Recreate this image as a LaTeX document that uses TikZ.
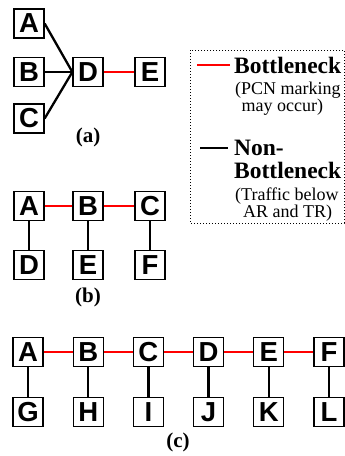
\documentclass[tikz,border=0pt]{standalone}
\usepackage{fontspec}
\setmainfont{Liberation Serif}
\newfontfamily\boxfont{Liberation Sans}
\begin{document}
\begin{tikzpicture}[x=1pt,y=-1pt,
  nbox/.style={draw=black,line width=1.3pt,fill=white,minimum width=30pt,minimum height=29pt,inner sep=0pt,font=\boxfont\bfseries\fontsize{27.5}{27.5}\selectfont},
  blk/.style={line width=2.3pt,black},
  rd/.style={line width=2.3pt,red},
  sublabel/.style={font=\bfseries\fontsize{21}{22}\selectfont,inner sep=0pt},
  lgb/.style={font=\bfseries\fontsize{23.5}{24}\selectfont,inner sep=0pt,anchor=base west},
  lgs/.style={font=\fontsize{18}{18}\selectfont,inner sep=0pt,anchor=base west}]
\useasboundingbox (0,0) rectangle (345,456);
% (a)
\node[nbox] (aA) at (29,23.5) {A};
\node[nbox] (aB) at (29,72) {B};
\node[nbox] (aC) at (29,118.5) {C};
\node[nbox] (aD) at (88,72) {D};
\node[nbox] (aE) at (150,72) {E};
\draw[blk] (aA.east) -- (aD.west);
\draw[blk] (aB.east) -- (aD.west);
\draw[blk] (aC.east) -- (aD.west);
\draw[rd] (aD.east) -- (aE.west);
\node[sublabel] (la) at (88,137) {(a)};
% legend
\draw[dotted,line width=1pt] (190,50) rectangle (344,223);
\coordinate (r1) at (197,65);
\coordinate (r2) at (230,65);
\draw[rd] (r1) -- (r2);
\node[lgb] (t1) at (234,73) {Bottleneck};
\node[lgs] (t2) at (235,94) {(PCN marking};
\node[lgs] (t3) at (241.5,111) {may occur)};
\coordinate (k1) at (200,148);
\coordinate (k2) at (228,148);
\draw[blk] (k1) -- (k2);
\node[lgb] (t4) at (234,155) {Non-};
\node[lgb] (t5) at (234,178) {Bottleneck};
\node[lgs] (t6) at (235,200) {(Traffic below};
\node[lgs] (t7) at (243,217.5) {AR and TR)};
% (b)
\node[nbox] (bA) at (29,206) {A};
\node[nbox] (bB) at (88,206) {B};
\node[nbox] (bC) at (150,206) {C};
\node[nbox] (bD) at (29,265) {D};
\node[nbox] (bE) at (88,265) {E};
\node[nbox] (bF) at (150,265) {F};
\draw[rd] (bA) -- (bB);
\draw[rd] (bB) -- (bC);
\draw[blk] (bA) -- (bD);
\draw[blk] (bB) -- (bE);
\draw[blk] (bC) -- (bF);
\node[sublabel] (lb) at (88,297) {(b)};
% (c)
\foreach \n/\m/\i in {A/G/0,B/H/1,C/I/2,D/J/3,E/K/4,F/L/5}{
  \node[nbox] (c\n) at (28+60.2*\i,352) {\n};
  \node[nbox] (c\m) at (28+60.2*\i,412) {\m};
  \draw[blk] (c\n) -- (c\m);
}
\foreach \p/\q in {A/B,B/C,C/D,D/E,E/F}{
  \draw[rd] (c\p) -- (c\q);
}
\node[sublabel] (lc) at (178,442) {(c)};
\end{tikzpicture}
\end{document}
